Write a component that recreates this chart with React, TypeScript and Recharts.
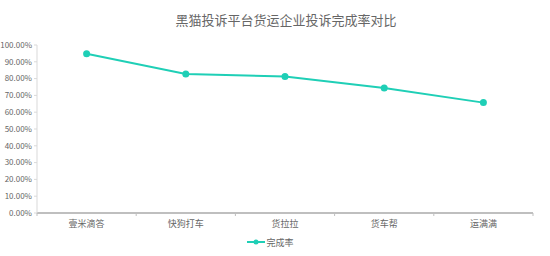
import { LineChart, Line, XAxis, YAxis, Legend } from "recharts";

const companies = ["壹米滴答", "快狗打车", "货拉拉", "货车帮", "运满满"];
const completionRate = [0.948, 0.828, 0.812, 0.744, 0.657];
const rateTicks = [0, 0.1, 0.2, 0.3, 0.4, 0.5, 0.6, 0.7, 0.8, 0.9, 1];

const data = companies.map((name, i) => ({ name, rate: completionRate[i] }));

const W = 550;
const H = 256;
const MARGIN = { top: 45, right: 17, bottom: 6, left: 0 };
const Y_WIDTH = 37;
const BAND = (W - MARGIN.left - MARGIN.right - Y_WIDTH) / companies.length;
const TEAL = "#1fcfb6";
const TEXT = "#666666";
const FONT = '"Noto Sans CJK SC", "Noto Sans", sans-serif';

const pct = (v: number) => `${(v * 100).toFixed(2)}%`;

// category labels with boundary tick marks between bands
function CategoryTick(props: any) {
  const { x, y, payload, index } = props;
  const last = index === companies.length - 1;
  return (
    <g>
      <line x1={x - BAND / 2} x2={x - BAND / 2} y1={y - 8} y2={y - 5} stroke="#bfbfbf" />
      {last && <line x1={x + BAND / 2} x2={x + BAND / 2} y1={y - 8} y2={y - 5} stroke="#bfbfbf" />}
      <text x={x} y={y + 6} textAnchor="middle" fill={TEXT} fontSize={9} fontFamily={FONT}>
        {payload.value}
      </text>
    </g>
  );
}

function RateLegend() {
  return (
    <div style={{ display: "flex", justifyContent: "center", alignItems: "center", height: 16, paddingLeft: 8 }}>
      <svg width={18} height={8} style={{ marginRight: 1 }}>
        <line x1={0} x2={18} y1={4} y2={4} stroke={TEAL} strokeWidth={2} />
        <circle cx={9} cy={4} r={2.5} fill={TEAL} />
      </svg>
      <span style={{ fontSize: 9, color: TEXT, fontFamily: FONT }}>完成率</span>
    </div>
  );
}

export default function App() {
  return (
    <div style={{ position: "fixed", left: 0, top: 0, width: W, height: H, background: "#fff" }}>
      <div
        style={{
          position: "absolute",
          top: 10,
          left: 0,
          width: W,
          textAlign: "center",
          fontSize: 13,
          color: TEXT,
          fontFamily: FONT,
          paddingLeft: 22,
          boxSizing: "border-box",
        }}
      >
        黑猫投诉平台货运企业投诉完成率对比
      </div>
      <LineChart width={W} height={H} data={data} margin={MARGIN}>
        <XAxis
          dataKey="name"
          scale="band"
          axisLine={{ stroke: "#bfbfbf", strokeWidth: 2 }}
          tickLine={false}
          tick={<CategoryTick />}
          height={21}
          interval={0}
        />
        <YAxis
          domain={[0, 1]}
          ticks={rateTicks}
          tickFormatter={pct}
          width={Y_WIDTH}
          axisLine={{ stroke: "#d9d9d9" }}
          tickLine={{ stroke: "#d9d9d9" }}
          tickSize={3}
          tick={{ fontSize: 8, fill: TEXT, fontFamily: FONT }}
          interval={0}
        />
        <Legend verticalAlign="bottom" content={<RateLegend />} />
        <Line
          type="linear"
          dataKey="rate"
          name="完成率"
          stroke={TEAL}
          strokeWidth={2}
          dot={{ r: 2.5, fill: TEAL, stroke: TEAL }}
          isAnimationActive={false}
        />
      </LineChart>
    </div>
  );
}
